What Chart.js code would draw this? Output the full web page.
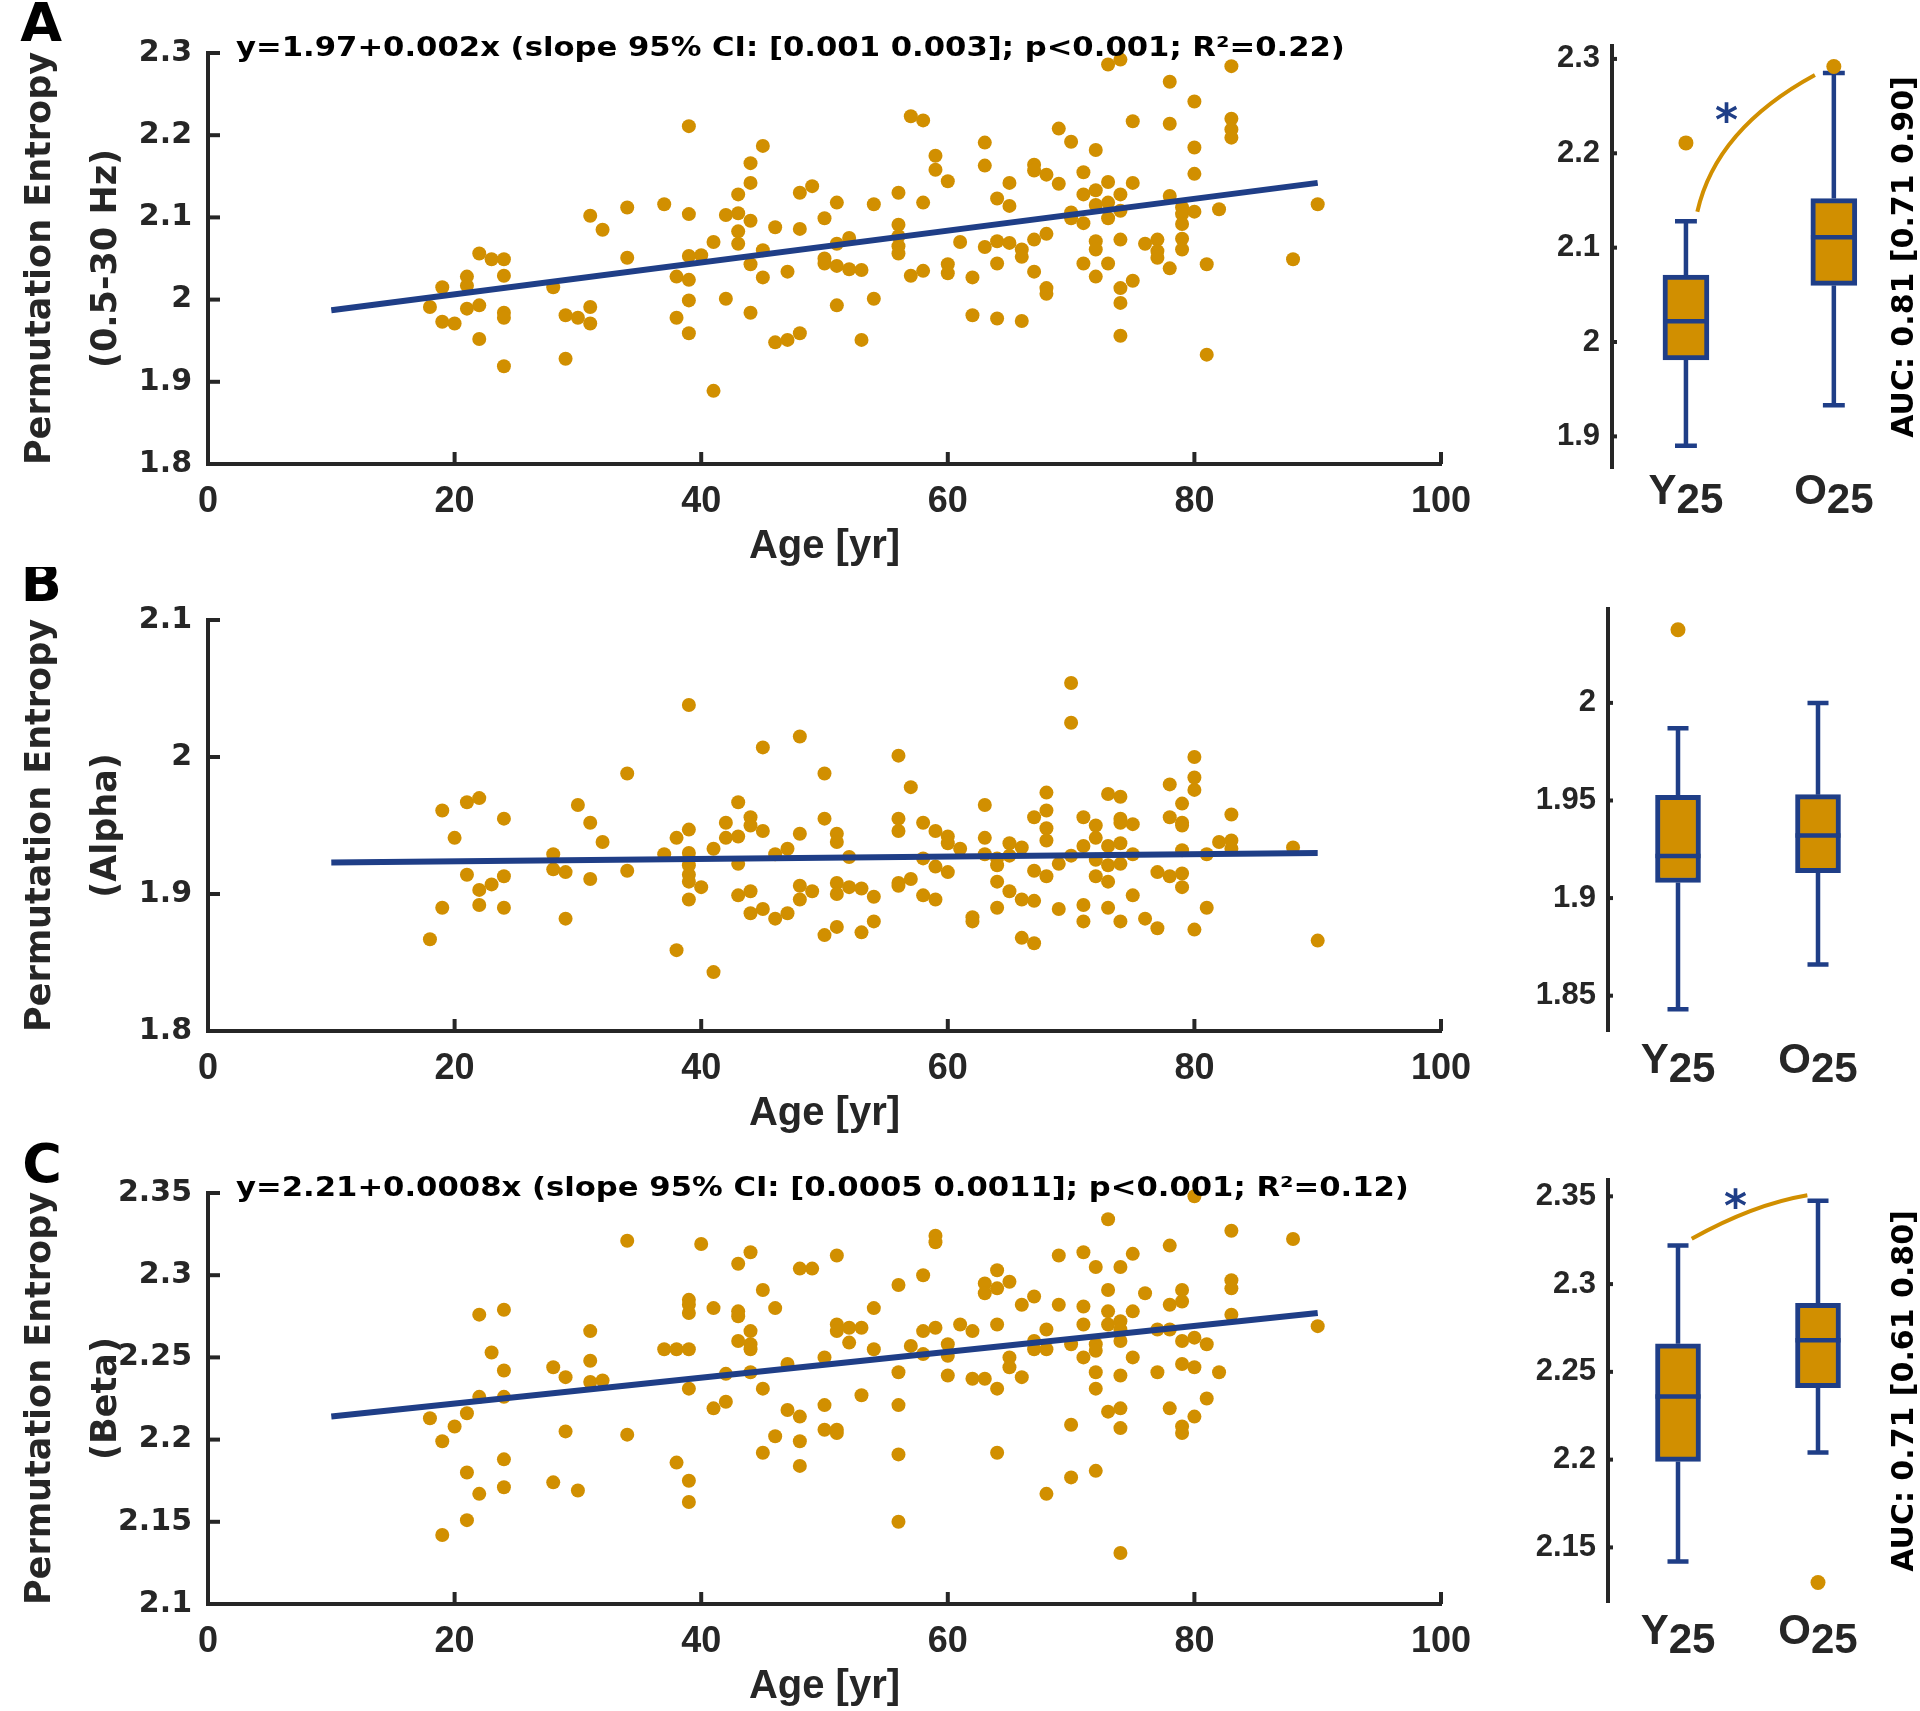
<!DOCTYPE html>
<html>
<head>
<meta charset="utf-8">
<title>Permutation entropy vs age</title>
<script src="https://cdn.jsdelivr.net/npm/chart.js@4.4.1/dist/chart.umd.min.js"></script>
<style>
  html, body { margin: 0; padding: 0; background: #fff; width: 1920px; height: 1711px; overflow: hidden; }
  canvas { position: absolute; }
</style>
</head>
<body>
<canvas id="scatterBroad" width="1480" height="580" style="left:0;top:0"></canvas>
<canvas id="scatterAlpha" width="1480" height="580" style="left:0;top:567px"></canvas>
<canvas id="scatterBeta" width="1480" height="580" style="left:0;top:1140px"></canvas>
<canvas id="boxBroad" width="440" height="580" style="left:1480px;top:6px"></canvas>
<canvas id="boxAlpha" width="440" height="580" style="left:1480px;top:569px"></canvas>
<canvas id="boxBeta" width="440" height="580" style="left:1480px;top:1140px"></canvas>
<script>
const INK = '#262626';
const ORANGE = '#D18F00';
const BLUE = '#1F3E87';
const FONT_SANS = '"Liberation Sans", Arial, sans-serif';
const FONT_WIDE = '"DejaVu Sans", Verdana, sans-serif';

// shared axes
const ageTicks = [0, 20, 40, 60, 80, 100];
const fitAges = [10, 90];
const groups = ['Y', 'O'];
const groupSub = '25';

// ---- broadband 0.5-30 Hz: rows are [age, values...]
const broadRows = [
  [18, 1.991], [19, 2.015, 1.973], [20, 1.971], [21, 2.028, 2.017, 1.989],
  [22, 2.056, 1.993, 1.952], [23, 2.049], [24, 2.049, 2.029, 1.984, 1.978, 1.919],
  [28, 2.015], [29, 1.981, 1.928], [30, 1.978], [31, 2.102, 1.991, 1.971], [32, 2.085],
  [34, 2.112, 2.051], [37, 2.116], [38, 2.028, 1.978],
  [39, 2.211, 2.104, 2.053, 2.024, 1.999, 1.959], [40, 2.054], [41, 2.070, 1.889],
  [42, 2.103, 2.001], [43, 2.128, 2.105, 2.083, 2.068], [44, 2.166, 2.142, 2.096, 2.043, 1.984],
  [45, 2.187, 2.060, 2.027], [46, 2.088, 1.948], [47, 2.034, 1.951], [48, 2.130, 2.086, 1.959],
  [49, 2.138], [50, 2.099, 2.050, 2.044], [51, 2.118, 2.068, 2.041, 1.993], [52, 2.075, 2.037],
  [53, 2.036, 1.951], [54, 2.116, 2.001], [56, 2.130, 2.091, 2.077, 2.065, 2.056],
  [57, 2.223, 2.029], [58, 2.218, 2.118, 2.035], [59, 2.175, 2.158], [60, 2.144, 2.043, 2.032],
  [61, 2.070], [62, 2.027, 1.981], [63, 2.191, 2.163, 2.064], [64, 2.123, 2.071, 2.044, 1.977],
  [65, 2.142, 2.114, 2.069], [66, 2.061, 2.052, 1.974], [67, 2.164, 2.157, 2.073, 2.034],
  [68, 2.152, 2.080, 2.014, 2.007], [69, 2.208, 2.141], [70, 2.192, 2.106, 2.099],
  [71, 2.155, 2.128, 2.093, 2.044], [72, 2.182, 2.133, 2.115, 2.071, 2.061, 2.028],
  [73, 2.286, 2.143, 2.118, 2.099, 2.044], [74, 2.292, 2.128, 2.108, 2.073, 2.014, 1.996, 1.956],
  [75, 2.217, 2.142, 2.023], [76, 2.068], [77, 2.073, 2.059, 2.051], [78, 2.265, 2.214, 2.126, 2.038],
  [79, 2.112, 2.104, 2.092, 2.074, 2.061], [80, 2.241, 2.185, 2.153, 2.107], [81, 2.043, 1.933],
  [82, 2.110], [83, 2.284, 2.220, 2.207, 2.197], [88, 2.049], [90, 2.116],
];
const broadFit = [1.987, 2.142];
const broadTicks = [1.8, 1.9, 2.0, 2.1, 2.2, 2.3];
const broadNote = 'y=1.97+0.002x (slope 95% CI: [0.001 0.003]; p<0.001; R²=0.22)';
// box stats: [lower whisker, q1, median, q3, upper whisker]
const broadYoung = [1.890, 1.981, 2.022, 2.071, 2.128];
const broadOld = [1.933, 2.060, 2.111, 2.152, 2.285];
const broadOutliers = [[1, 2.211], [2, 2.292]];
const broadBoxTicks = [1.9, 2.0, 2.1, 2.2, 2.3];
const broadAuc = 'AUC: 0.81 [0.71 0.90]';

// ---- alpha band
const alphaRows = [
  [18, 1.867], [19, 1.961, 1.890], [20, 1.941], [21, 1.967, 1.914], [22, 1.970, 1.903, 1.892],
  [23, 1.907], [24, 1.955, 1.913, 1.890], [28, 1.929, 1.918], [29, 1.916, 1.882], [30, 1.965],
  [31, 1.952, 1.911], [32, 1.938], [34, 1.988, 1.917], [37, 1.929], [38, 1.941, 1.859],
  [39, 2.038, 1.947, 1.930, 1.921, 1.914, 1.909, 1.896], [40, 1.905], [41, 1.933, 1.843],
  [42, 1.952, 1.941], [43, 1.967, 1.942, 1.922, 1.899], [44, 1.956, 1.950, 1.902, 1.886],
  [45, 2.007, 1.946, 1.889], [46, 1.929, 1.882], [47, 1.933, 1.886], [48, 2.015, 1.944, 1.906, 1.896],
  [49, 1.902], [50, 1.988, 1.955, 1.870], [51, 1.944, 1.938, 1.908, 1.900, 1.876], [52, 1.927, 1.905],
  [53, 1.904, 1.872], [54, 1.898, 1.880], [56, 2.001, 1.955, 1.946, 1.908, 1.906], [57, 1.978, 1.911],
  [58, 1.952, 1.926, 1.899], [59, 1.946, 1.920, 1.896], [60, 1.942, 1.937, 1.916], [61, 1.933],
  [62, 1.883, 1.880], [63, 1.965, 1.941, 1.929], [64, 1.926, 1.921, 1.909, 1.890],
  [65, 1.937, 1.928, 1.902], [66, 1.934, 1.896, 1.868], [67, 1.956, 1.917, 1.895, 1.864],
  [68, 1.974, 1.961, 1.948, 1.939, 1.913], [69, 1.922, 1.889], [70, 2.054, 2.025, 1.928],
  [71, 1.956, 1.935, 1.892, 1.880], [72, 1.950, 1.941, 1.925, 1.913],
  [73, 1.973, 1.935, 1.921, 1.909, 1.890], [74, 1.971, 1.955, 1.952, 1.937, 1.922, 1.880],
  [75, 1.951, 1.929, 1.899], [76, 1.882], [77, 1.916, 1.875], [78, 1.980, 1.956, 1.913],
  [79, 1.966, 1.952, 1.950, 1.932, 1.915, 1.905], [80, 2.000, 1.985, 1.976, 1.874],
  [81, 1.929, 1.890], [82, 1.938], [83, 1.958, 1.939, 1.933], [88, 1.934], [90, 1.866],
];
const alphaFit = [1.923, 1.930];
const alphaTicks = [1.8, 1.9, 2.0, 2.1];
const alphaYoung = [1.843, 1.908, 1.9215, 1.9526, 1.987];
const alphaOld = [1.866, 1.913, 1.932, 1.953, 2.000];
const alphaOutliers = [[1, 2.0375]];
const alphaBoxTicks = [1.85, 1.9, 1.95, 2.0];

// ---- beta band
const betaRows = [
  [18, 2.213], [19, 2.199, 2.142], [20, 2.208], [21, 2.216, 2.180, 2.151], [22, 2.276, 2.226, 2.167],
  [23, 2.253], [24, 2.279, 2.242, 2.226, 2.188, 2.171], [28, 2.244, 2.174], [29, 2.238, 2.205],
  [30, 2.169], [31, 2.266, 2.248, 2.235], [32, 2.236], [34, 2.321, 2.203], [37, 2.255],
  [38, 2.255, 2.186], [39, 2.285, 2.282, 2.277, 2.255, 2.231, 2.175, 2.162], [40, 2.319],
  [41, 2.280, 2.219], [42, 2.240, 2.223], [43, 2.307, 2.278, 2.275, 2.260],
  [44, 2.314, 2.266, 2.258, 2.255, 2.241], [45, 2.291, 2.231, 2.192], [46, 2.280, 2.202],
  [47, 2.246, 2.218], [48, 2.304, 2.214, 2.199, 2.184], [49, 2.304], [50, 2.250, 2.221, 2.206],
  [51, 2.312, 2.270, 2.266, 2.206, 2.204], [52, 2.268, 2.259], [53, 2.268, 2.227], [54, 2.280, 2.255],
  [56, 2.294, 2.241, 2.221, 2.191, 2.150], [57, 2.257], [58, 2.300, 2.266, 2.252],
  [59, 2.324, 2.320, 2.268], [60, 2.258, 2.251, 2.239], [61, 2.270], [62, 2.266, 2.237],
  [63, 2.295, 2.289, 2.237], [64, 2.303, 2.292, 2.270, 2.231, 2.192], [65, 2.296, 2.250, 2.244],
  [66, 2.282, 2.238], [67, 2.287, 2.260, 2.255], [68, 2.267, 2.255, 2.167], [69, 2.312, 2.282],
  [70, 2.258, 2.209, 2.177], [71, 2.314, 2.281, 2.270, 2.250],
  [72, 2.305, 2.258, 2.254, 2.241, 2.231, 2.181], [73, 2.334, 2.291, 2.278, 2.270, 2.217],
  [74, 2.305, 2.272, 2.267, 2.260, 2.239, 2.219, 2.207, 2.131], [75, 2.313, 2.278, 2.250],
  [76, 2.289], [77, 2.267, 2.241], [78, 2.318, 2.282, 2.267, 2.219],
  [79, 2.291, 2.284, 2.260, 2.246, 2.208, 2.204], [80, 2.348, 2.262, 2.244, 2.214],
  [81, 2.258, 2.225], [82, 2.241], [83, 2.327, 2.297, 2.292, 2.276], [88, 2.322], [90, 2.269],
];
const betaFit = [2.214, 2.277];
const betaTicks = [2.1, 2.15, 2.2, 2.25, 2.3, 2.35];
const betaNote = 'y=2.21+0.0008x (slope 95% CI: [0.0005 0.0011]; p<0.001; R²=0.12)';
const betaYoung = [2.142, 2.199, 2.236, 2.266, 2.322];
const betaOld = [2.204, 2.241, 2.268, 2.289, 2.3475];
const betaOutliers = [[2, 2.130]];
const betaBoxTicks = [2.15, 2.2, 2.25, 2.3, 2.35];
const betaAuc = 'AUC: 0.71 [0.61 0.80]';

const fmt = v => String(+Number(v).toFixed(2));

// MATLAB-style ticks pointing into the plot
const innerTicks = len => ({
  id: 'innerTicks',
  afterDraw(chart) {
    const { ctx, chartArea, scales } = chart;
    ctx.save();
    ctx.strokeStyle = INK;
    ctx.lineWidth = 4;
    for (const id of ['x', 'y']) {
      const s = scales[id];
      if (!s || !s.options.display) continue;
      for (const t of s.ticks) {
        const p = s.getPixelForValue(t.value);
        ctx.beginPath();
        if (id === 'x') {
          ctx.moveTo(p, chartArea.bottom);
          ctx.lineTo(p, chartArea.bottom - len);
        } else {
          ctx.moveTo(chartArea.left, p);
          ctx.lineTo(chartArea.left + len, p);
        }
        ctx.stroke();
      }
    }
    ctx.restore();
  },
});

const scatterNotes = cfg => ({
  id: 'scatterNotes',
  afterDraw(chart) {
    const { ctx, chartArea } = chart;
    ctx.save();
    ctx.fillStyle = '#000';
    ctx.textBaseline = 'alphabetic';
    ctx.font = `bold 54px ${FONT_WIDE}`;
    ctx.textAlign = 'right';
    ctx.fillText(cfg.letter, 62, cfg.letterY);
    if (cfg.note) {
      // the fit summary in the figure is set wide
      ctx.translate(chartArea.left + 28, chartArea.top + 3);
      ctx.scale(1.18, 1);
      ctx.font = `bold 26px ${FONT_WIDE}`;
      ctx.textAlign = 'left';
      ctx.fillText(cfg.note, 0, 0);
    }
    ctx.restore();
  },
});

const boxNotes = cfg => ({
  id: 'boxNotes',
  afterDraw(chart) {
    const { ctx, chartArea, scales: { x, y } } = chart;
    ctx.save();
    if (cfg.arc) {
      const [p0, c, p1] = cfg.arc.map(([u, v]) => [x.getPixelForValue(u), y.getPixelForValue(v)]);
      ctx.strokeStyle = ORANGE;
      ctx.lineWidth = 4;
      ctx.beginPath();
      ctx.moveTo(p0[0], p0[1]);
      ctx.quadraticCurveTo(c[0], c[1], p1[0], p1[1]);
      ctx.stroke();
      ctx.fillStyle = BLUE;
      ctx.font = `bold 44px ${FONT_WIDE}`;
      ctx.textAlign = 'center';
      ctx.textBaseline = 'alphabetic';
      const m = ctx.measureText('*');
      const sx = x.getPixelForValue(cfg.star[0]);
      const sy = y.getPixelForValue(cfg.star[1]);
      ctx.fillText('*', sx, sy + (m.actualBoundingBoxAscent - m.actualBoundingBoxDescent) / 2);
    }
    ctx.fillStyle = INK;
    ctx.font = `bold 42px ${FONT_SANS}`;
    ctx.textAlign = 'left';
    ctx.textBaseline = 'alphabetic';
    groups.forEach((g, i) => {
      const cx = x.getPixelForValue(i + 1);
      const w1 = ctx.measureText(g).width;
      const w2 = ctx.measureText(groupSub).width;
      const x0 = cx - (w1 + w2) / 2;
      ctx.fillText(g, x0, chartArea.bottom + cfg.labelGap);
      ctx.fillText(groupSub, x0 + w1, chartArea.bottom + cfg.labelGap + 9);
    });
    if (cfg.auc) {
      ctx.translate(425, (chartArea.top + chartArea.bottom) / 2);
      ctx.rotate(-Math.PI / 2);
      ctx.fillStyle = '#000';
      ctx.font = `bold 30px ${FONT_WIDE}`;
      ctx.textAlign = 'center';
      ctx.textBaseline = 'middle';
      ctx.fillText(cfg.auc, 0, 0);
    }
    ctx.restore();
  },
});

function scatterChart(id, cfg) {
  const points = cfg.rows.flatMap(([age, ...vals]) => vals.map(v => ({ x: age, y: v })));
  return new Chart(document.getElementById(id), {
    type: 'scatter',
    data: {
      datasets: [
        {
          data: fitAges.map((x, i) => ({ x, y: cfg.fit[i] })),
          showLine: true, borderColor: BLUE, borderWidth: 6, pointRadius: 0, order: 0, clip: false,
        },
        {
          data: points, backgroundColor: ORANGE, borderWidth: 0, pointRadius: 7, order: 1, clip: false,
        },
      ],
    },
    options: {
      responsive: false, animation: false, devicePixelRatio: 1, events: [],
      layout: { padding: { top: 53, right: 39, bottom: 0, left: 0 } },
      plugins: { legend: { display: false }, tooltip: { enabled: false } },
      scales: {
        x: {
          type: 'linear', min: 0, max: 100,
          afterBuildTicks: s => { s.ticks = ageTicks.map(value => ({ value })); },
          afterFit: s => { s.height = 116; s.paddingLeft = 0; s.paddingRight = 0; },
          grid: { display: false, drawTicks: false },
          border: { display: true, width: 4, color: INK },
          ticks: { color: INK, padding: 16, maxRotation: 0, autoSkip: false,
            font: { family: FONT_SANS, weight: 'bold', size: 36 } },
          title: { display: true, text: 'Age [yr]', color: INK, padding: { top: 0, bottom: 9 },
            font: { family: FONT_SANS, weight: 'bold', size: 40, lineHeight: 1.2 } },
        },
        y: {
          type: 'linear', min: cfg.ticks[0], max: cfg.ticks[cfg.ticks.length - 1],
          afterBuildTicks: s => { s.ticks = cfg.ticks.map(value => ({ value })); },
          afterFit: s => { s.width = 208; },
          grid: { display: false, drawTicks: false },
          border: { display: true, width: 4, color: INK },
          ticks: { color: INK, padding: 16, autoSkip: false, callback: fmt,
            font: { family: FONT_WIDE, weight: 'bold', size: 30 } },
          title: { display: true, text: ['Permutation Entropy', cfg.band], color: INK,
            padding: { top: 8, bottom: 0 },
            font: { family: FONT_WIDE, weight: 'bold', size: 35, lineHeight: 1.886 } },
        },
      },
    },
    plugins: [innerTicks(12), scatterNotes(cfg)],
  });
}

function boxChart(id, cfg) {
  const stats = [cfg.young, cfg.old];
  const whiskers = [];
  const medians = [];
  stats.forEach((s, i) => {
    const c = i + 1;
    whiskers.push(
      { x: c, y: s[3] }, { x: c, y: s[4] }, { x: c, y: null },
      { x: c - cfg.cap, y: s[4] }, { x: c + cfg.cap, y: s[4] }, { x: c, y: null },
      { x: c, y: s[0] }, { x: c, y: s[1] }, { x: c, y: null },
      { x: c - cfg.cap, y: s[0] }, { x: c + cfg.cap, y: s[0] }, { x: c, y: null },
    );
    medians.push({ x: c - cfg.half, y: s[2] }, { x: c + cfg.half, y: s[2] }, { x: c, y: null });
  });
  return new Chart(document.getElementById(id), {
    type: 'bar',
    data: {
      datasets: [
        { type: 'scatter', data: cfg.outliers.map(([x, y]) => ({ x, y })),
          backgroundColor: ORANGE, borderWidth: 0, pointRadius: 7.5, order: 0, clip: false },
        { type: 'line', data: medians, borderColor: BLUE, borderWidth: 4.5, pointRadius: 0,
          spanGaps: false, order: 1 },
        { type: 'bar', data: stats.map((s, i) => ({ x: i + 1, y: [s[1], s[3]] })),
          backgroundColor: ORANGE, borderColor: BLUE, borderWidth: 5, borderSkipped: false,
          barThickness: cfg.boxPx, order: 2 },
        { type: 'line', data: whiskers, borderColor: BLUE, borderWidth: 4.5, pointRadius: 0,
          spanGaps: false, order: 3 },
      ],
    },
    options: {
      responsive: false, animation: false, devicePixelRatio: 1, events: [],
      layout: { padding: { top: 40, right: cfg.padRight, bottom: 118, left: 0 } },
      plugins: { legend: { display: false }, tooltip: { enabled: false } },
      scales: {
        x: { type: 'linear', display: false, min: 0.5, max: 2.4, offset: false },
        y: {
          type: 'linear', min: cfg.yMin, max: cfg.yMax,
          afterBuildTicks: s => { s.ticks = cfg.ticks.map(value => ({ value })); },
          afterFit: s => { s.width = cfg.axisX; },
          grid: { display: false, drawTicks: false },
          border: { display: true, width: 4, color: INK },
          ticks: { color: INK, padding: 12, autoSkip: false, callback: fmt,
            font: { family: FONT_SANS, weight: 'bold', size: 31 } },
        },
      },
    },
    plugins: [innerTicks(5), boxNotes(cfg)],
  });
}

scatterChart('scatterBroad', { rows: broadRows, fit: broadFit, ticks: broadTicks, band: '(0.5-30 Hz)',
  letter: 'A', letterY: 41, note: broadNote });
scatterChart('scatterAlpha', { rows: alphaRows, fit: alphaFit, ticks: alphaTicks, band: '(Alpha)',
  letter: 'B', letterY: 34 });
scatterChart('scatterBeta', { rows: betaRows, fit: betaFit, ticks: betaTicks, band: '(Beta)',
  letter: 'C', letterY: 42, note: betaNote });

boxChart('boxBroad', { young: broadYoung, old: broadOld, outliers: broadOutliers, ticks: broadBoxTicks,
  yMin: 1.8665, yMax: 2.3137, axisX: 132, padRight: 27, boxPx: 46, half: 0.155, cap: 0.074,
  labelGap: 36, auc: broadAuc,
  arc: [[1.077, 2.138], [1.203, 2.226], [1.872, 2.283]], star: [1.275, 2.243] });
boxChart('boxAlpha', { young: alphaYoung, old: alphaOld, outliers: alphaOutliers, ticks: alphaBoxTicks,
  yMin: 1.8319, yMax: 2.0481, axisX: 128, padRight: 46, boxPx: 45, half: 0.161, cap: 0.075,
  labelGap: 42 });
boxChart('boxBeta', { young: betaYoung, old: betaOld, outliers: betaOutliers, ticks: betaBoxTicks,
  yMin: 2.1189, yMax: 2.3593, axisX: 128, padRight: 46, boxPx: 45, half: 0.161, cap: 0.075,
  labelGap: 42, auc: betaAuc,
  arc: [[1.098, 2.3258], [1.538, 2.3454], [1.924, 2.3506]], star: [1.41, 2.349] });
</script>
</body>
</html>
